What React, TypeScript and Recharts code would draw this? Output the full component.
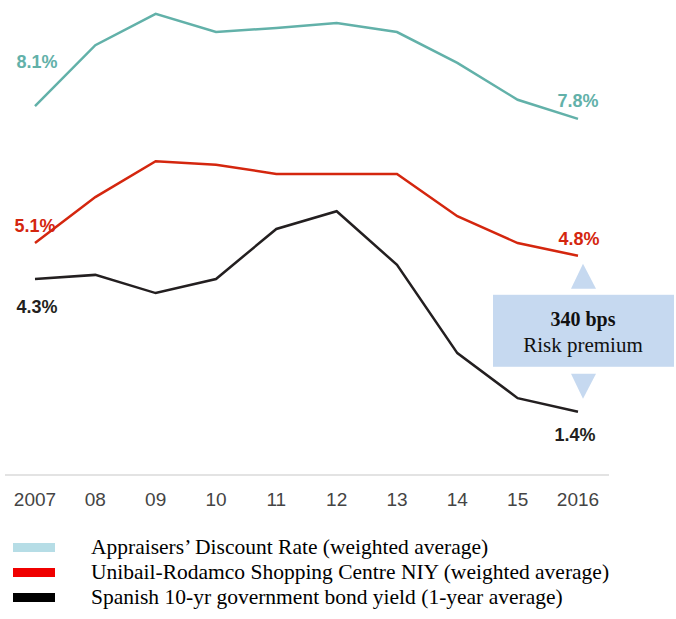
import React from 'react';
import { LineChart, Line, XAxis, YAxis } from 'recharts';

const years = ['2007', '08', '09', '10', '11', '12', '13', '14', '15', '2016'];
const discountRate = [8.11, 9.45, 10.14, 9.74, 9.83, 9.94, 9.74, 9.06, 8.25, 7.83];
const shoppingNIY = [5.1, 6.11, 6.9, 6.82, 6.62, 6.62, 6.62, 5.69, 5.1, 4.82];
const bondYield = [4.31, 4.4, 4.0, 4.31, 5.41, 5.8, 4.62, 2.68, 1.69, 1.39];
const startLabels = ['8.1%', '5.1%', '4.3%'];
const endLabels = ['7.8%', '4.8%', '1.4%'];
const seriesNames = [
  'Appraisers\u2019 Discount Rate (weighted average)',
  'Unibail-Rodamco Shopping Centre NIY (weighted average)',
  'Spanish 10-yr government bond yield (1-year average)',
];
const annotationTitle = '340 bps';
const annotationSub = 'Risk premium';

const lineColors = ['#62b1a9', '#d4260e', '#231f20'];
const swatchColors = ['#b6dde6', '#f00000', '#000000'];

const data = years.map((y, i) => ({
  year: y,
  dr: discountRate[i],
  niy: shoppingNIY[i],
  bond: bondYield[i],
}));

const labelFont = '"Liberation Sans", Arial, sans-serif';

const makeLabel = (si: number, startDy: number, endDy: number, startDx: number, endDx: number) => (props: any) => {
  const { x, y, index } = props;
  if (index !== 0 && index !== years.length - 1) return null;
  const isStart = index === 0;
  return (
    <text
      key={`l-${si}-${index}`}
      x={x + (isStart ? startDx : endDx)}
      y={y + (isStart ? startDy : endDy)}
      textAnchor="middle"
      dominantBaseline="central"
      fill={lineColors[si]}
      fontFamily={labelFont}
      fontWeight="bold"
      fontSize={19}
      textLength={41}
      lengthAdjust="spacingAndGlyphs"
    >
      {isStart ? startLabels[si] : endLabels[si]}
    </text>
  );
};

const bondLabel = (props: any) => {
  const { x, y, index } = props;
  const base = makeLabel(2, 28, 23, 2, -3)(props);
  if (index !== years.length - 1) return base;
  const fill = '#c6d9f0';
  return (
    <g key="annot">
      {base}
      <polygon points={`${x + 5},${y - 148} ${x - 7},${y - 123} ${x + 18},${y - 123}`} fill={fill} />
      <rect x={x - 85} y={y - 117} width={181} height={72} fill={fill} />
      <text x={x + 5} y={y - 93} textAnchor="middle" dominantBaseline="central" fontFamily='"Liberation Serif", "Times New Roman", serif' fontWeight="bold" fontSize={20} fill="#111">
        {annotationTitle}
      </text>
      <text x={x + 5} y={y - 67} textAnchor="middle" dominantBaseline="central" fontFamily='"Liberation Serif", "Times New Roman", serif' fontSize={21} fill="#111">
        {annotationSub}
      </text>
      <polygon points={`${x - 7},${y - 38} ${x + 18},${y - 38} ${x + 5},${y - 13}`} fill={fill} />
    </g>
  );
};

const Tick = (props: any) => {
  const { x, y, payload } = props;
  return (
    <text x={x} y={y} dy={31} textAnchor="middle" fill="#444" fontFamily='"Liberation Sans", Arial, sans-serif' fontSize={19}>
      {payload.value}
    </text>
  );
};

export default function App() {
  return (
    <div style={{ position: 'absolute', left: 0, top: 0, width: 676, height: 619, background: '#fff' }}>
      <LineChart width={676} height={619} data={data} margin={{ top: 2, right: 67, bottom: 114, left: 5 }}>
        <XAxis
          dataKey="year"
          padding={{ left: 30, right: 31 }}
          axisLine={{ stroke: '#e3e3e3', strokeWidth: 2 }}
          tickLine={false}
          tickSize={0}
          tickMargin={0}
          tick={<Tick />}
          height={30}
          interval={0}
        />
        <YAxis hide domain={[0, 10.4]} />
        <Line dataKey="dr" stroke={lineColors[0]} strokeWidth={2.5} dot={false} isAnimationActive={false} label={makeLabel(0, -45, -18, 2, 0)} />
        <Line dataKey="niy" stroke={lineColors[1]} strokeWidth={2.5} dot={false} isAnimationActive={false} label={makeLabel(1, -18, -17, 0, 1)} />
        <Line dataKey="bond" stroke={lineColors[2]} strokeWidth={2.5} dot={false} isAnimationActive={false} label={bondLabel} />
      </LineChart>
      <div style={{ position: 'absolute', left: 13, top: 535, fontFamily: '"Liberation Serif", "Times New Roman", serif', fontSize: 21.5, color: '#000' }}>
        {seriesNames.map((n, i) => (
          <div key={n} style={{ display: 'flex', alignItems: 'center', height: 25, lineHeight: '25px' }}>
            <div style={{ width: 42, height: 9, background: swatchColors[i], marginRight: 36 }} />
            <span>{n}</span>
          </div>
        ))}
      </div>
    </div>
  );
}
